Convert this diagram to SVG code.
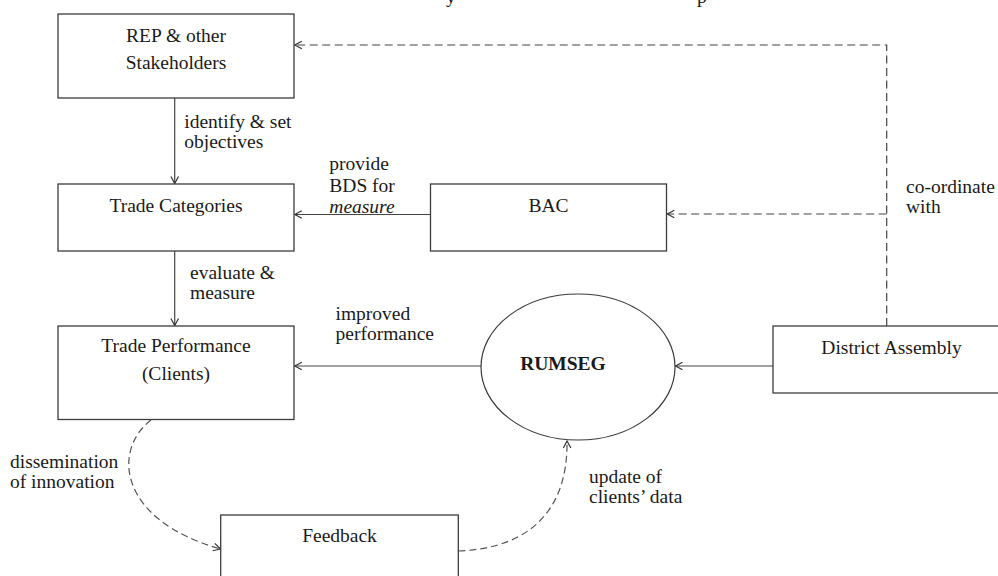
<svg xmlns="http://www.w3.org/2000/svg" width="998" height="576" viewBox="0 0 998 576">
<style>
.box{fill:#fff;stroke:#3c3c3c;stroke-width:1.3}
.t{font-family:"Liberation Serif","Times New Roman",serif;font-size:19.5px;fill:#1a1a1a}
.c{text-anchor:middle}
.ln{fill:none;stroke:#444;stroke-width:1.2}
.ds{fill:none;stroke:#444;stroke-width:1.2;stroke-dasharray:8 4.5}
.dc{fill:none;stroke:#555;stroke-width:1.2;stroke-dasharray:7 4}
</style>
<defs>
<marker id="ah" markerUnits="userSpaceOnUse" markerWidth="12" markerHeight="12" refX="9" refY="5" orient="auto">
<path d="M2,1.2 L9,5 L2,8.8" fill="none" stroke="#333" stroke-width="1.2" stroke-dasharray="none"/>
</marker>
</defs>
<text class="t" x="446" y="3">y</text>
<text class="t" x="697" y="3">p</text>
<g id="connectors">
<path class="ln" d="M174.7,98 V183.5" marker-end="url(#ah)"/>
<path class="ln" d="M174.7,251 V325.5" marker-end="url(#ah)"/>
<path class="ln" d="M430.5,214.5 H294.8" marker-end="url(#ah)"/>
<path class="ln" d="M481,366 H294.8" marker-end="url(#ah)"/>
<path class="ln" d="M773,366 H675.5" marker-end="url(#ah)"/>
<path class="ds" d="M886.7,326 V45 H294.8" marker-end="url(#ah)"/>
<path class="ds" d="M886.7,214 H667.3" marker-end="url(#ah)"/>
<path class="dc" d="M151,420 C112,450 118,520 220.5,549" marker-end="url(#ah)"/>
<path class="dc" d="M458.3,551 C535,548 568,505 567,441" marker-end="url(#ah)"/>
</g>
<g id="labels">
<text class="t" x="184.3" y="128.3">identify &amp; set</text>
<text class="t" x="184.3" y="148.3">objectives</text>
<text class="t" x="329.3" y="170">provide</text>
<text class="t" x="329.3" y="191.7">BDS for</text>
<text class="t" x="329.3" y="212.7" font-style="italic">measure</text>
<text class="t" x="190" y="279.3">evaluate &amp;</text>
<text class="t" x="190" y="299">measure</text>
<text class="t" x="335.5" y="320">improved</text>
<text class="t" x="335.5" y="340">performance</text>
<text class="t" x="906" y="193">co-ordinate</text>
<text class="t" x="906" y="213">with</text>
<text class="t" x="10" y="468">dissemination</text>
<text class="t" x="10" y="487.5">of innovation</text>
<text class="t" x="589" y="483">update of</text>
<text class="t" x="589" y="502.5">clients’ data</text>
</g>
<g id="rep">
<rect class="box" x="58" y="14" width="236" height="84"/>
<text class="t c" x="176" y="41.7">REP &amp; other</text>
<text class="t c" x="176" y="69">Stakeholders</text>
</g>
<g id="trade-categories">
<rect class="box" x="58" y="184" width="236" height="67"/>
<text class="t c" x="176" y="211.7">Trade Categories</text>
</g>
<g id="bac">
<rect class="box" x="430.5" y="184" width="236" height="67"/>
<text class="t c" x="548.5" y="211.7">BAC</text>
</g>
<g id="trade-performance">
<rect class="box" x="58" y="326" width="236" height="93.5"/>
<text class="t c" x="176" y="352">Trade Performance</text>
<text class="t c" x="176" y="380">(Clients)</text>
</g>
<g id="rumseg">
<ellipse cx="578" cy="367" rx="97" ry="73" fill="#fff" stroke="#3c3c3c" stroke-width="1.2"/>
<text class="t c" x="563" y="370" font-weight="bold">RUMSEG</text>
</g>
<g id="district-assembly">
<rect class="box" x="773" y="326" width="240" height="67"/>
<text class="t c" x="891.5" y="354">District Assembly</text>
</g>
<g id="feedback">
<rect class="box" x="220.7" y="515" width="237.6" height="70"/>
<text class="t c" x="339.5" y="541.7">Feedback</text>
</g>
</svg>
